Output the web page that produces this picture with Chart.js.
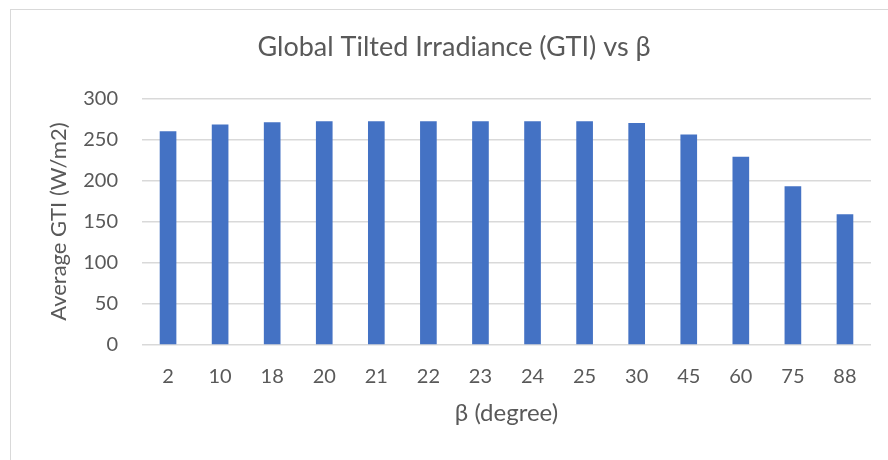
<!DOCTYPE html>
<html>
<head>
<meta charset="utf-8">
<script src="https://cdn.jsdelivr.net/npm/chart.js@4/dist/chart.umd.min.js"></script>
<style>
  html, body { margin: 0; padding: 0; background: #ffffff; }
  #wrap { position: relative; width: 888px; height: 460px; overflow: hidden; }
  #frame { position: absolute; left: 10px; top: 9px; width: 900px; height: 500px; border: 1px solid #d9d9d9; box-sizing: border-box; }
  #chart { position: absolute; left: 0; top: 0; }
</style>
</head>
<body>
<div id="wrap">
  <div id="frame"></div>
  <canvas id="chart" width="888" height="460"></canvas>
</div>
<script>
// Tilt angles β (degrees) and the average global tilted irradiance at each
const tiltAngles = ['2', '10', '18', '20', '21', '22', '23', '24', '25', '30', '45', '60', '75', '88'];
const avgGTI = [260, 268, 271, 272, 272, 272, 272, 272, 272, 270, 256, 229, 193, 159];
const yTickMax = 300;
const yTickStep = 50;

const textColor = '#595959';
const fontFamily = 'Lato, "Open Sans", sans-serif';

// Plot-area edges in canvas pixels
const padLeft = 37;
const plotLeft = 142, plotRight = 871, plotBottom = 345;
const titleSize = 27;
const yTitleSize = 22;
const xTitleSize = 24;

new Chart(document.getElementById('chart'), {
  type: 'bar',
  data: {
    labels: tiltAngles,
    datasets: [{
      label: 'Average GTI',
      data: avgGTI,
      backgroundColor: '#4472c4',
      borderWidth: 0,
      barPercentage: 1,
      categoryPercentage: 0.32
    }]
  },
  options: {
    responsive: false,
    animation: false,
    layout: { padding: { left: padLeft, right: 888 - plotRight, top: 0, bottom: 0 } },
    plugins: {
      legend: { display: false },
      tooltip: { enabled: false },
      title: {
        display: true,
        text: 'Global Tilted Irradiance (GTI) vs β',
        color: textColor,
        font: { family: fontFamily, size: titleSize, weight: 'normal', lineHeight: 1.2 },
        padding: { top: 47.5 - titleSize * 0.6, bottom: 98.3 - (47.5 + titleSize * 0.6) }
      }
    },
    scales: {
      x: {
        grid: { display: false },
        border: { display: false },
        ticks: { color: textColor, font: { family: fontFamily, size: 20 }, padding: 12 },
        title: {
          display: true,
          text: 'β (degree)',
          color: textColor,
          font: { family: fontFamily, size: xTitleSize, lineHeight: 1.2 },
          padding: { top: 0, bottom: 47 - xTitleSize * 0.6 }
        },
        afterFit: (scale) => { scale.height = 460 - plotBottom; }
      },
      y: {
        min: 0,
        max: yTickMax,
        grid: { color: '#d9d9d9', lineWidth: 1.5, drawTicks: false },
        border: { display: false },
        ticks: { stepSize: yTickStep, color: textColor, font: { family: fontFamily, size: 20 }, padding: 24 },
        title: {
          display: true,
          text: 'Average GTI (W/m2)',
          color: textColor,
          font: { family: fontFamily, size: yTitleSize, lineHeight: 1.2 },
          padding: { top: 59 - padLeft - yTitleSize * 0.6, bottom: 0 }
        },
        afterFit: (scale) => { scale.width = plotLeft - padLeft; }
      }
    }
  }
});
</script>
</body>
</html>
